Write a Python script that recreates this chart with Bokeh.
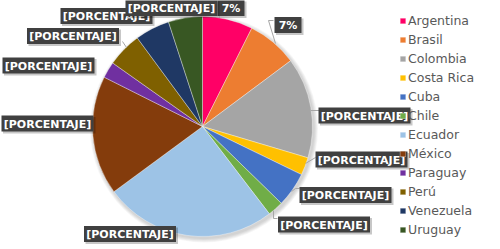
import numpy as np
from bokeh.plotting import figure
from bokeh.models import Range1d, Legend, LegendItem, ColumnDataSource
from bokeh.embed import file_html
from bokeh.resources import INLINE
from bokeh.core.properties import value

# ---- data ----
countries = ["Argentina", "Brasil", "Colombia", "Costa Rica", "Cuba", "Chile",
             "Ecuador", "México", "Paraguay", "Perú", "Venezuela", "Uruguay"]
values = [7.4, 7.4, 14.8, 2.6, 5.1, 2.3, 25.3, 17.5, 2.4, 5.1, 5.1, 5.0]
colors = ["#FF0066", "#ED7D31", "#A5A5A5", "#FFC000", "#4472C4", "#70AD47",
          "#9DC3E6", "#843C0C", "#7030A0", "#7F6000", "#1F3864", "#385723"]
label_texts = ["7%", "7%", "[PORCENTAJE]", "[PORCENTAJE]", "[PORCENTAJE]", "[PORCENTAJE]",
               "[PORCENTAJE]", "[PORCENTAJE]", "[PORCENTAJE]", "[PORCENTAJE]",
               "[PORCENTAJE]", "[PORCENTAJE]"]

# ---- layout (screen px, top-left origin) ----
W, H = 500, 249
CX, CY, R = 202, 126, 110
label_pos = [(230.5, 7.5), (287.5, 24.5), (364, 115), (361, 159), (345, 194.5),
             (323.5, 224), (129.5, 233.5), (47, 123), (48, 65), (72.5, 35.5),
             (106, 15.5), (171, 7.5)]
leaders = [
    None,
    [(273, 20), (268, 20), (275, 43)],
    [(310, 110), (319, 110)],
    [(305, 163), (315, 157)],
    [(291, 191), (295, 188), (299, 188)],
    [(273, 210), (273, 218), (277, 218)],
    None, None, None,
    [(122, 41), (126, 47)],
    None, None,
]

def sy(y):
    return H - y

p = figure(width=W, height=H, x_range=Range1d(0, W), y_range=Range1d(0, H),
           output_backend="svg", toolbar_location=None, min_border=0,
           x_axis_location=None, y_axis_location=None)
p.grid.visible = False
p.outline_line_color = None
p.background_fill_color = "white"
p.border_fill_color = "white"

# pie shadow
for k in range(1, 6):
    p.circle(x=[CX + 1.5], y=[sy(CY) - 2], radius=R + k * 0.8,
             fill_color="black", fill_alpha=0.035, line_color=None)

# pie
total = float(sum(values))
frac = np.array(values) / total
cum = np.concatenate([[0.0], np.cumsum(frac)])
start = np.pi / 2 - 2 * np.pi * cum[:-1]
end = np.pi / 2 - 2 * np.pi * cum[1:]

src = ColumnDataSource(dict(start_angle=start, end_angle=end, color=colors,
                            country=countries, value=values))
wr = p.wedge(x=CX, y=sy(CY), radius=R, start_angle="start_angle", end_angle="end_angle",
             direction="clock", fill_color="color", line_color="white",
             line_width=0.6, line_alpha=0.6, source=src)

# leader lines
xs, ys = [], []
for ld in leaders:
    if ld:
        xs.append([pt[0] for pt in ld])
        ys.append([sy(pt[1]) for pt in ld])
p.multi_line(xs=xs, ys=ys, line_color="#A6A6A6", line_width=1)

# data labels
for txt, (lx, ly) in zip(label_texts, label_pos):
    bw = 92 if len(txt) > 4 else 27
    bh = 16
    p.quad(left=[lx - bw / 2 + 1.5], right=[lx + bw / 2 + 2], top=[sy(ly - bh / 2) - 1.5],
           bottom=[sy(ly + bh / 2) - 2], fill_color="black", fill_alpha=0.22, line_color=None)
    p.quad(left=[lx - bw / 2], right=[lx + bw / 2], top=[sy(ly - bh / 2)],
           bottom=[sy(ly + bh / 2)], fill_color="#404040", line_color=None)
    p.text(x=[lx], y=[sy(ly) - 0.5], text=[txt], text_align="center", text_baseline="middle",
           text_font=value("DejaVu Sans"), text_font_style="bold",
           text_font_size="11px", text_color="white")

# legend
items = [LegendItem(label=c, renderers=[wr], index=i) for i, c in enumerate(countries)]
legend = Legend(items=items, location=(399, 12), orientation="vertical",
                glyph_width=7, glyph_height=7, label_standoff=2,
                label_height=16, spacing=3, padding=0, margin=0,
                label_text_font="DejaVu Sans", label_text_font_size="12.5px",
                label_text_color="#595959", background_fill_alpha=0,
                border_line_color=None)
p.add_layout(legend)

open("out.html", "w").write(file_html(p, INLINE))
